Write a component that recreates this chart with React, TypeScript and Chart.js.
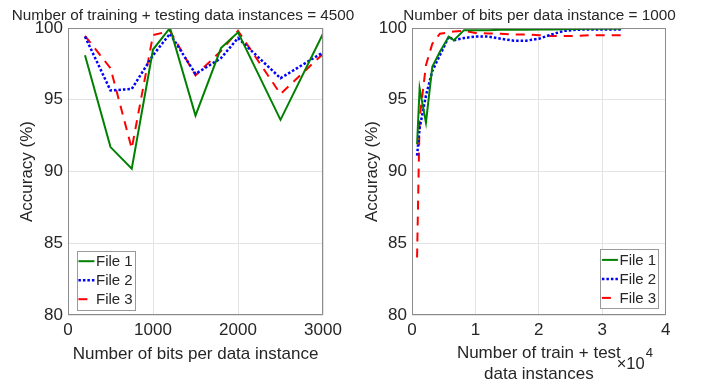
import React, { useEffect, useRef } from "react";
import { Chart, registerables } from "chart.js";

Chart.register(...registerables);

const FONT = "'Liberation Sans', Arial, Helvetica, sans-serif";
const TEXT = "#262626";
const GRID = "#e3e3e3";
const BOX = "#8c8c8c";

const seriesNames = ["File 1", "File 2", "File 3"];
const seriesColors = ["#008000", "#0000ff", "#ff0000"];

// Left panel: training + testing instances = 4500
const leftTitle = "Number of training + testing data instances = 4500";
const leftXLabel = "Number of bits per data instance";
const leftBits = [200, 500, 750, 1000, 1200, 1500, 1800, 2000, 2500, 3000];
const leftFile1 = [98.1, 91.7, 90.2, 98.5, 100.0, 93.9, 98.6, 99.7, 93.6, 99.6];
const leftFile2 = [99.4, 95.65, 95.75, 98.1, 99.6, 96.8, 97.9, 99.3, 96.5, 98.3];
const leftFile3 = [99.45, 97.2, 91.6, 99.5, 99.8, 96.7, 98.4, 99.8, 95.4, 98.2];
const leftXTicks = [0, 1000, 2000, 3000];

// Right panel: bits per data instance = 1000
const rightTitle = "Number of bits per data instance = 1000";
const rightXLabel = ["Number of train + test", "data instances"];
const rightInstances = [800, 1200, 2200, 3200, 4400, 5800, 6600, 8200, 10000, 12000, 14000, 16000, 18000, 20000, 22000, 24000, 26000, 28000, 30000, 33000];
const rightFile1 = [91.9, 95.8, 93.4, 97.3, 98.35, 99.4, 99.15, 99.85, 99.85, 99.85, 99.87, 99.87, 99.88, 99.9, 99.9, 99.92, 99.93, 99.95, 99.95, 99.95];
const rightFile2 = [91.1, 93.0, 95.3, 97.0, 98.1, 99.4, 99.15, 99.3, 99.4, 99.4, 99.25, 99.12, 99.12, 99.25, 99.55, 99.8, 99.88, 99.9, 99.9, 99.9];
const rightFile3 = [84.0, 93.7, 97.4, 98.9, 99.6, 99.7, 99.75, 99.8, 99.65, 99.62, 99.6, 99.55, 99.55, 99.5, 99.45, 99.45, 99.45, 99.5, 99.5, 99.5];
const rightXTicks = [0, 10000, 20000, 30000, 40000];

const yTicks = [80, 85, 90, 95, 100];
const yLabel = "Accuracy (%)";

const dashes = [[], [2.5, 2], [9, 7]];
const widths = [2, 2.5, 2];

function buildDatasets(xs: number[], ys: number[][]) {
  return ys.map((vals, i) => ({
    label: seriesNames[i],
    data: vals.map((v, j) => ({ x: xs[j], y: v })),
    borderColor: seriesColors[i],
    backgroundColor: seriesColors[i],
    borderWidth: widths[i],
    borderDash: dashes[i],
    borderCapStyle: "butt" as const,
    pointRadius: 0,
    tension: 0,
    fill: false,
  }));
}

const decorPlugin = {
  id: "decor",
  afterDatasetsDraw(chart: any, _args: any, opts: any) {
    const { ctx, chartArea: a } = chart;
    ctx.save();
    // box
    ctx.strokeStyle = BOX;
    ctx.lineWidth = 1;
    ctx.setLineDash([]);
    ctx.strokeRect(Math.round(a.left) + 0.5, Math.round(a.top) + 0.5, Math.round(a.right - a.left) - 1, Math.round(a.bottom - a.top) - 1);
    // title
    ctx.fillStyle = TEXT;
    ctx.font = `15.3px ${FONT}`;
    ctx.textAlign = "center";
    ctx.textBaseline = "alphabetic";
    ctx.fillText(opts.title, opts.titleX, 20);
    // legend
    const bw = 57.5;
    const bh = 58.6;
    const bx = opts.legendSide === "left" ? a.left + 8.7 : a.right - 8 - bw;
    const by = a.bottom - (opts.legendSide === "left" ? 5.7 : 7) - bh;
    ctx.fillStyle = "#ffffff";
    ctx.fillRect(bx, by, bw, bh);
    ctx.strokeStyle = "#9a9a9a";
    ctx.lineWidth = 1;
    ctx.strokeRect(Math.round(bx) + 0.5, Math.round(by) + 0.5, Math.round(bw), Math.round(bh));
    for (let i = 0; i < seriesNames.length; i++) {
      const cy = by + 10.5 + i * 19;
      ctx.strokeStyle = seriesColors[i];
      ctx.lineWidth = widths[i];
      ctx.setLineDash(dashes[i]);
      ctx.beginPath();
      ctx.moveTo(bx + 1.7, cy);
      ctx.lineTo(bx + 17.7, cy);
      ctx.stroke();
      ctx.setLineDash([]);
      ctx.fillStyle = TEXT;
      ctx.font = `15px ${FONT}`;
      ctx.textAlign = "left";
      ctx.textBaseline = "middle";
      ctx.fillText(seriesNames[i], bx + 19.3, cy + 0.5);
    }
    // exponent
    if (opts.exponent) {
      ctx.fillStyle = TEXT;
      ctx.textAlign = "left";
      ctx.textBaseline = "alphabetic";
      ctx.font = `16.5px ${FONT}`;
      const ex = a.right - 49;
      ctx.fillText("\u00d710", ex, 369);
      const w = ctx.measureText("\u00d710").width;
      ctx.font = `13px ${FONT}`;
      ctx.fillText("4", ex + w + 1, 357);
    }
    ctx.restore();
  },
};

function makeConfig(p: {
  xs: number[];
  ys: number[][];
  xTicks: number[];
  xLabel: string | string[];
  xLabelPadBottom: number;
  yAxisWidth: number;
  yTitlePad: number;
  padRight: number;
  title: string;
  titleX: number;
  legendSide: string;
  tickFmt: (v: number) => string;
  exponent: boolean;
}) {
  return {
    type: "line" as const,
    data: { datasets: buildDatasets(p.xs, p.ys) },
    plugins: [decorPlugin],
    options: {
      animation: false as const,
      responsive: false,
      maintainAspectRatio: false,
      devicePixelRatio: 1,
      parsing: false as const,
      normalized: true,
      layout: { padding: { top: 28, right: p.padRight, bottom: 0, left: 0 } },
      plugins: {
        legend: { display: false },
        title: { display: false },
        tooltip: { enabled: false },
        decor: { title: p.title, titleX: p.titleX, legendSide: p.legendSide, exponent: p.exponent },
      },
      scales: {
        x: {
          type: "linear" as const,
          min: p.xTicks[0],
          max: p.xTicks[p.xTicks.length - 1],
          afterBuildTicks: (s: any) => {
            s.ticks = p.xTicks.map((v) => ({ value: v }));
          },
          afterFit: (s: any) => {
            s.height = 70;
          },
          border: { display: false },
          grid: { color: GRID, lineWidth: 1, drawTicks: false },
          ticks: {
            autoSkip: false,
            maxRotation: 0,
            padding: 5,
            color: TEXT,
            font: { family: FONT, size: 17 },
            callback: (v: any) => p.tickFmt(Number(v)),
          },
          title: {
            display: true,
            text: p.xLabel,
            color: TEXT,
            font: { family: FONT, size: 17, lineHeight: 1.25 },
            padding: { top: 0, bottom: p.xLabelPadBottom },
          },
        },
        y: {
          type: "linear" as const,
          min: 80,
          max: 100,
          afterBuildTicks: (s: any) => {
            s.ticks = yTicks.map((v) => ({ value: v }));
          },
          afterFit: (s: any) => {
            s.width = p.yAxisWidth;
          },
          border: { display: false },
          grid: { color: GRID, lineWidth: 1, drawTicks: false },
          ticks: {
            autoSkip: false,
            padding: 5,
            color: TEXT,
            font: { family: FONT, size: 17 },
          },
          title: {
            display: true,
            text: yLabel,
            color: TEXT,
            font: { family: FONT, size: 17, lineHeight: 1.2 },
            padding: { top: p.yTitlePad, bottom: 0 },
          },
        },
      },
    },
  };
}

function Panel(props: { left: number; width: number; cfg: any }) {
  const ref = useRef<HTMLCanvasElement | null>(null);
  useEffect(() => {
    if (!ref.current) return;
    const chart = new Chart(ref.current, props.cfg);
    return () => chart.destroy();
  }, []);
  return (
    <canvas
      ref={ref}
      width={props.width}
      height={385}
      style={{ position: "absolute", left: props.left, top: 0, width: props.width, height: 385 }}
    />
  );
}

export default function App() {
  const leftCfg = makeConfig({
    xs: leftBits,
    ys: [leftFile1, leftFile2, leftFile3],
    xTicks: leftXTicks,
    xLabel: leftXLabel,
    xLabelPadBottom: 20,
    yAxisWidth: 68,
    yTitlePad: 17.5,
    padRight: 31,
    title: leftTitle,
    titleX: 183,
    legendSide: "left",
    tickFmt: (v) => String(v),
    exponent: false,
  });
  const rightCfg = makeConfig({
    xs: rightInstances,
    ys: [rightFile1, rightFile2, rightFile3],
    xTicks: rightXTicks,
    xLabel: rightXLabel,
    xLabelPadBottom: 0,
    yAxisWidth: 58,
    yTitlePad: 8,
    padRight: 43.3,
    title: rightTitle,
    titleX: 539.5 - 354,
    legendSide: "right",
    tickFmt: (v) => String(v / 10000),
    exponent: true,
  });
  return (
    <div style={{ position: "fixed", left: 0, top: 0, width: 709, height: 385, background: "#ffffff" }}>
      <Panel left={0} width={354} cfg={leftCfg} />
      <Panel left={354} width={355} cfg={rightCfg} />
    </div>
  );
}
